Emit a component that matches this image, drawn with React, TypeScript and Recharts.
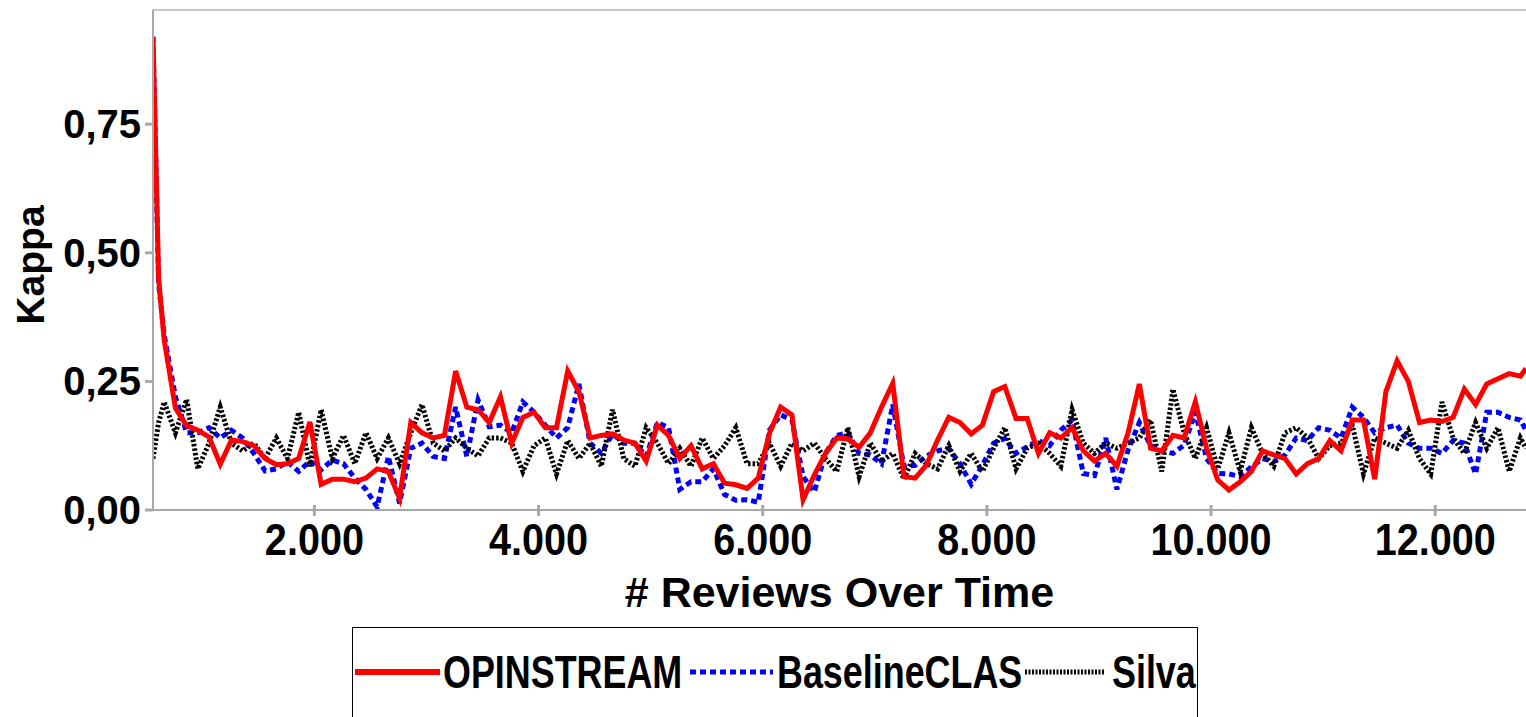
import React from "react";
import { Line, LineChart, ReferenceLine, XAxis, YAxis } from "recharts";

// # reviews seen so far (evaluation points)
const REVIEWS = [
  560, 610, 660, 760, 860, 960, 1060, 1160, 1260, 1360, 1460, 1560, 1660, 1760, 1860, 1960,
  2060, 2160, 2260, 2360, 2460, 2560, 2660, 2760, 2860, 2960, 3060, 3160, 3260, 3360, 3460, 3560,
  3660, 3760, 3860, 3960, 4060, 4160, 4260, 4360, 4460, 4560, 4660, 4760, 4860, 4960, 5060, 5160,
  5260, 5360, 5460, 5560, 5660, 5760, 5860, 5960, 6060, 6160, 6260, 6360, 6460, 6560, 6660, 6760,
  6860, 6960, 7060, 7160, 7260, 7360, 7460, 7560, 7660, 7760, 7860, 7960, 8060, 8160, 8260, 8360,
  8460, 8560, 8660, 8760, 8860, 8960, 9060, 9160, 9260, 9360, 9460, 9560, 9660, 9760, 9860, 9960,
  10060, 10160, 10260, 10360, 10460, 10560, 10660, 10760, 10860, 10960, 11060, 11160, 11260, 11360,
  11460, 11560, 11660, 11760, 11860, 11960, 12060, 12160, 12260, 12360, 12460, 12560, 12660, 12760,
  12810,
];

const OPINSTREAM = [
  0.92, 0.45, 0.33, 0.198, 0.164, 0.155, 0.142, 0.089, 0.136, 0.133, 0.125, 0.1, 0.088, 0.09, 0.1, 0.171,
  0.05, 0.06, 0.06, 0.055, 0.062, 0.08, 0.075, 0.023, 0.17, 0.15, 0.14, 0.145, 0.27, 0.2, 0.195, 0.17,
  0.22, 0.13, 0.18, 0.19, 0.16, 0.16, 0.27, 0.23, 0.14, 0.145, 0.148, 0.136, 0.13, 0.095, 0.165, 0.145,
  0.1, 0.125, 0.08, 0.09, 0.052, 0.049, 0.042, 0.062, 0.149, 0.2, 0.185, 0.02, 0.068, 0.11, 0.14, 0.138,
  0.122, 0.15, 0.2, 0.246, 0.065, 0.062, 0.087, 0.136, 0.18, 0.17, 0.148, 0.165, 0.23, 0.24, 0.178, 0.178,
  0.11, 0.15, 0.14, 0.16, 0.115, 0.095, 0.11, 0.085, 0.15, 0.245, 0.12, 0.115, 0.145, 0.14, 0.21, 0.12,
  0.058, 0.039, 0.055, 0.075, 0.115, 0.107, 0.1, 0.07, 0.09, 0.1, 0.135, 0.115, 0.175, 0.175,
  0.06, 0.23, 0.29, 0.25, 0.17, 0.175, 0.172, 0.18, 0.235, 0.205, 0.245, 0.255, 0.265, 0.26,
  0.275,
];

const BASELINE_CLAS = [
  0.92, 0.44, 0.34, 0.22, 0.15, 0.15, 0.16, 0.14, 0.155, 0.14, 0.11, 0.076, 0.08, 0.094, 0.075, 0.095,
  0.078, 0.097, 0.09, 0.062, 0.04, 0.006, 0.104, 0.013, 0.12, 0.13, 0.104, 0.1, 0.2, 0.104, 0.214, 0.162,
  0.165, 0.15, 0.21, 0.19, 0.165, 0.14, 0.16, 0.245, 0.13, 0.11, 0.148, 0.13, 0.13, 0.104, 0.17, 0.16,
  0.04, 0.055, 0.055, 0.08, 0.03, 0.019, 0.02, 0.015, 0.155, 0.185, 0.175, 0.065, 0.035, 0.11, 0.145, 0.15,
  0.11, 0.107, 0.09, 0.205, 0.085, 0.087, 0.105, 0.115, 0.12, 0.09, 0.05, 0.087, 0.13, 0.139, 0.11, 0.123,
  0.135, 0.125, 0.155, 0.175, 0.071, 0.067, 0.14, 0.04, 0.117, 0.17, 0.125, 0.115, 0.11, 0.126, 0.19, 0.1,
  0.071, 0.07, 0.065, 0.084, 0.1, 0.094, 0.107, 0.14, 0.135, 0.16, 0.155, 0.14, 0.2, 0.18,
  0.15, 0.16, 0.165, 0.13, 0.12, 0.12, 0.11, 0.135, 0.13, 0.07, 0.19, 0.19, 0.18, 0.175,
  0.155,
];

const SILVA = [
  0.1, 0.17, 0.21, 0.15, 0.215, 0.08, 0.13, 0.2, 0.13, 0.115, 0.13, 0.1, 0.14, 0.1, 0.19, 0.085,
  0.195, 0.1, 0.145, 0.09, 0.15, 0.1, 0.14, 0.09, 0.15, 0.205, 0.13, 0.115, 0.14, 0.12, 0.105, 0.14,
  0.14, 0.13, 0.075, 0.125, 0.14, 0.07, 0.135, 0.1, 0.13, 0.085, 0.195, 0.1, 0.085, 0.16, 0.13, 0.09,
  0.12, 0.085, 0.14, 0.1, 0.125, 0.16, 0.09, 0.09, 0.13, 0.085, 0.13, 0.115, 0.13, 0.1, 0.075, 0.16,
  0.065, 0.13, 0.095, 0.11, 0.06, 0.11, 0.09, 0.08, 0.125, 0.075, 0.11, 0.075, 0.12, 0.16, 0.08, 0.12,
  0.13, 0.11, 0.085, 0.195, 0.13, 0.11, 0.13, 0.12, 0.13, 0.14, 0.175, 0.075, 0.235, 0.15, 0.1, 0.16,
  0.08, 0.15, 0.075, 0.16, 0.11, 0.085, 0.15, 0.16, 0.14, 0.1, 0.125, 0.13, 0.165, 0.07,
  0.14, 0.13, 0.12, 0.155, 0.1, 0.07, 0.21, 0.14, 0.11, 0.17, 0.12, 0.16, 0.075, 0.14,
  0.12,
];

const X_TICKS = [2000, 4000, 6000, 8000, 10000, 12000];
const Y_TICKS = [0, 0.25, 0.5, 0.75];
const Y_MAX = 0.972;

const FONT = "'Liberation Sans', Arial, sans-serif";
const AXIS_GREY = "#a8a8a8";

const rows = REVIEWS.map((x, i) => ({
  x,
  opin: OPINSTREAM[i],
  base: BASELINE_CLAS[i],
  silva: SILVA[i],
}));

const thousands = (v: number) => String(v).replace(/\B(?=(\d{3})+(?!\d))/g, ".");

function XTick(props: any) {
  const { x, y, payload } = props;
  return (
    <g>
      <line x1={x} x2={x} y1={y - 5} y2={y + 6} stroke={AXIS_GREY} strokeWidth={3} />
      <text
        transform={`translate(${x},${y + 45}) scale(0.9,1)`}
        textAnchor="middle"
        fontFamily={FONT}
        fontWeight="bold"
        fontSize={44}
        fill="#000"
      >
        {thousands(payload.value)}
      </text>
    </g>
  );
}

function YTick(props: any) {
  const { x, y, payload } = props;
  return (
    <g>
      <line x1={x - 8} x2={x} y1={y} y2={y} stroke={AXIS_GREY} strokeWidth={3} />
      <text
        x={x - 12}
        y={y + 14}
        textAnchor="end"
        fontFamily={FONT}
        fontWeight="bold"
        fontSize={40}
        fill="#000"
      >
        {payload.value.toFixed(2).replace(".", ",")}
      </text>
    </g>
  );
}

const xTitle = ({ viewBox }: any) => (
  <text
    x={viewBox.x + viewBox.width / 2}
    y={viewBox.y + 97}
    textAnchor="middle"
    fontFamily={FONT}
    fontWeight="bold"
    fontSize={43}
    fill="#000"
  >
    # Reviews Over Time
  </text>
);

const yTitle = ({ viewBox }: any) => (
  <text
    transform={`translate(${viewBox.x + 44},${viewBox.y + viewBox.height / 2 + 5}) rotate(-90)`}
    textAnchor="middle"
    fontFamily={FONT}
    fontWeight="bold"
    fontSize={39}
    fill="#000"
  >
    Kappa
  </text>
);

// legend entries: swatch start/end and label start, relative to the legend box
const LEGEND = [
  { name: "OPINSTREAM", color: "#ff0000", width: 6, dash: undefined, from: 3, to: 88, text: 91 },
  { name: "BaselineCLAS", color: "#0000ff", width: 5, dash: "6 4", from: 338, to: 421, text: 425 },
  { name: "Silva", color: "#000000", width: 5, dash: "2 1.5", from: 673, to: 753, text: 760 },
];

function LegendBox() {
  return (
    <div
      style={{
        position: "absolute",
        left: 352,
        top: 627,
        width: 846,
        height: 90,
        borderTop: "1.5px solid #000",
        borderLeft: "1.5px solid #000",
        borderRight: "1.5px solid #000",
        boxSizing: "border-box",
      }}
    >
      <svg width={846} height={90} style={{ position: "absolute", left: -1.5, top: -1.5 }}>
        {LEGEND.map((item) => (
          <g key={item.name}>
            <line
              x1={item.from}
              x2={item.to}
              y1={45}
              y2={45}
              stroke={item.color}
              strokeWidth={item.width}
              strokeDasharray={item.dash}
            />
            <text
              transform={`translate(${item.text},61) scale(0.78,1)`}
              fontFamily={FONT}
              fontWeight="bold"
              fontSize={46}
              fill="#000"
            >
              {item.name}
            </text>
          </g>
        ))}
      </svg>
    </div>
  );
}

export default function App() {
  return (
    <div
      style={{
        position: "absolute",
        left: 0,
        top: 0,
        width: 1526,
        height: 717,
        background: "#fff",
        overflow: "hidden",
      }}
    >
      <LineChart width={1526} height={717} data={rows} margin={{ top: 10, right: 0, bottom: 0, left: 0 }}>
        <XAxis
          dataKey="x"
          type="number"
          domain={[560, 12810]}
          allowDataOverflow
          ticks={X_TICKS}
          tick={<XTick />}
          tickLine={false}
          tickSize={0}
          tickMargin={0}
          height={207}
          axisLine={{ stroke: AXIS_GREY, strokeWidth: 2 }}
          label={xTitle}
        />
        <YAxis
          type="number"
          domain={[0, Y_MAX]}
          allowDataOverflow
          ticks={Y_TICKS}
          tick={<YTick />}
          tickLine={false}
          tickSize={0}
          tickMargin={0}
          width={153}
          axisLine={{ stroke: AXIS_GREY, strokeWidth: 2 }}
          label={yTitle}
        />
        <ReferenceLine y={Y_MAX} stroke="#c8c8c8" strokeWidth={2} />
        <Line
          type="linear"
          dataKey="base"
          name="BaselineCLAS"
          stroke="#0000ff"
          strokeWidth={5}
          strokeDasharray="6 4"
          dot={false}
          isAnimationActive={false}
        />
        <Line
          type="linear"
          dataKey="silva"
          name="Silva"
          stroke="#000000"
          strokeWidth={5}
          strokeDasharray="2.5 2"
          dot={false}
          isAnimationActive={false}
        />
        <Line
          type="linear"
          dataKey="opin"
          name="OPINSTREAM"
          stroke="#ff0000"
          strokeWidth={5}
          dot={false}
          isAnimationActive={false}
        />
      </LineChart>
      <LegendBox />
    </div>
  );
}
